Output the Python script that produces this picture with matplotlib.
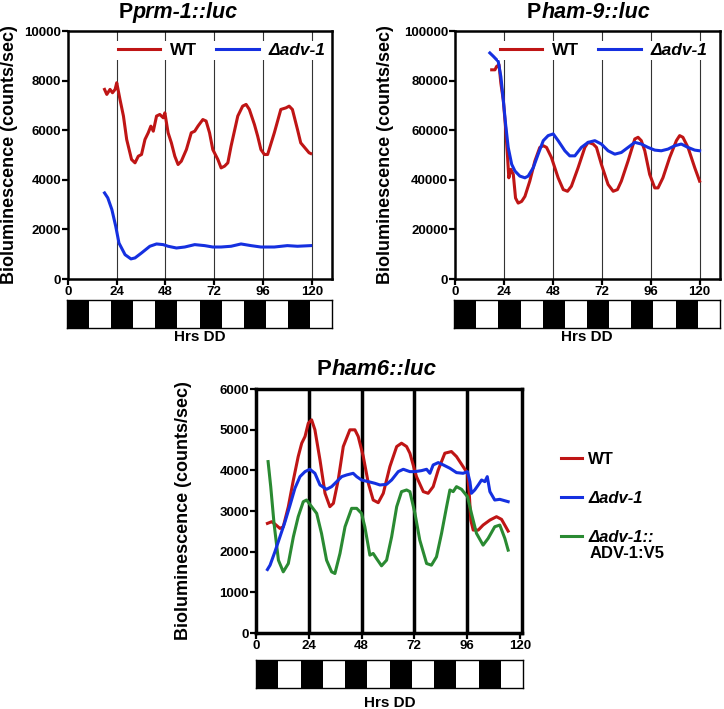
import matplotlib
matplotlib.use("Agg")
import matplotlib.pyplot as plt

plt.rcParams['font.family'] = ['Liberation Sans', 'DejaVu Sans']
plt.rcParams['font.weight'] = 'bold'
plt.rcParams['axes.labelweight'] = 'bold'

RED = '#BF1515'
BLUE = '#1530E0'
GREEN = '#2A8A32'

# ---- Pprm-1::luc ----
prm_wt_t = [18, 19.1, 20.7, 21.9, 23.2, 24, 25.6, 27.3, 28.9, 31.3, 33, 34.6, 36.2, 37.9, 39.5,
            40.8, 42, 43.6, 45.2, 46.9, 47.7, 49.3, 50.9, 52.6, 54.2, 55.8, 58.3, 60.7, 62.4,
            64, 66.4, 68, 69.7, 71.3, 73.8, 75.4, 77.1, 78.7, 80.3, 83.6, 86, 87.7, 89.3, 91.8,
            93.4, 95, 96.7, 98.3, 101.6, 104.8, 107.3, 108.9, 110.5, 113, 114.6, 118.7, 119.5]
prm_wt_v = [7645, 7443, 7645, 7510, 7645, 7914, 7240, 6570, 5625, 4818, 4684, 4950, 5020, 5625, 5895,
            6164, 5960, 6570, 6635, 6500, 6700, 5895, 5490, 4950, 4616, 4750, 5220, 5895, 5960,
            6165, 6430, 6370, 5895, 5220, 4818, 4480, 4550, 4684, 5357, 6570, 6970, 7040, 6837, 6230,
            5760, 5220, 5020, 5020, 5895, 6837, 6900, 6970, 6837, 6030, 5490, 5090, 5060]
prm_ko_t = [18, 19.6, 21.6, 23.5, 25.1, 28.1, 31, 33, 36.2, 40.3, 43.6, 46.9, 49.3, 53.4, 57.5,
            62.4, 67.3, 71.3, 75.4, 80.3, 85.2, 90.1, 95, 101.6, 108, 113, 119.5]
prm_ko_v = [3470, 3270, 2800, 2126, 1450, 980, 810, 850, 1050, 1320, 1413, 1386, 1320, 1250, 1290,
            1386, 1346, 1290, 1290, 1320, 1413, 1346, 1290, 1290, 1346, 1320, 1346]

# ---- Pham-9::luc ----
h9_wt_t = [18, 19.6, 20.4, 21.6, 22.5, 23.7, 24.8, 25.8, 26.4, 27.4, 28.6, 29.7, 31, 32.7, 34.3,
           36.7, 39.2, 41.6, 43.3, 44.9, 47.3, 50.6, 53.1, 55.2, 57.1, 60.4, 63.7, 65.3, 67.8,
           69.4, 71.8, 75.1, 77.6, 79.7, 81.6, 84.9, 88.2, 89.8, 91.4, 93.1, 95.5, 98, 99.6,
           102, 105.3, 108.6, 110.2, 111.8, 114.3, 117.6, 120]
h9_wt_v = [84350, 84350, 85700, 86400, 78900, 72100, 61200, 49000, 40800, 44200, 42200, 32650, 30600,
           31300, 33300, 39500, 47600, 53060, 53740, 53060, 49000, 40800, 36050, 35370, 37400, 44900,
           53060, 55100, 54400, 53060, 46260, 38100, 35370, 36050, 39460, 47600, 56460, 57140, 55780,
           51700, 42180, 36730, 36730, 40800, 48980, 55780, 57820, 57140, 53060, 44900, 39460]
h9_ko_t = [17.1, 18.8, 20.4, 21.2, 22.5, 23.7, 24.8, 26.1, 27.8, 29.4, 31.8, 34.3, 35.9, 38.4, 40.8,
           43.3, 45.7, 48.2, 50.6, 53.9, 56.3, 58.8, 62, 65.3, 68.6, 71.8, 75.1, 78.4, 81.6, 84.9,
           88.2, 91.4, 94.7, 98, 101.2, 104.5, 107.8, 111, 114.3, 117.6, 120]
h9_ko_v = [91150, 89800, 88430, 87760, 81600, 72100, 62600, 53060, 46260, 43540, 41500, 40800, 41500,
           44900, 50340, 55780, 57820, 58500, 55780, 51700, 49660, 49660, 53060, 55100, 55780, 54420,
           51700, 50340, 51020, 53060, 55100, 54420, 53060, 51970, 51700, 52380, 53740, 54420, 53060,
           51970, 51700]

# ---- Pham6::luc ----
h6_wt_t = [5.2, 7.1, 8.6, 10.9, 12.4, 14.7, 17, 19.2, 20.8, 22.3, 23.8, 25.3, 26.8, 29.1, 31.4,
           33.6, 35.2, 37.4, 39.7, 42.7, 45, 46.5, 48.8, 51.1, 53.3, 55.6, 57.9, 60.9, 64, 66.2,
           68.5, 70, 73, 76.1, 78.3, 80.6, 82.9, 85.9, 88.9, 91.2, 94.2, 96.2, 97, 97.7, 98.8,
           101.1, 103.3, 106.4, 109.4, 111.7, 114.7]
h6_wt_v = [2695, 2736, 2679, 2572, 2613, 3106, 3763, 4339, 4667, 4832, 5160, 5242, 4996, 4257, 3435,
           3106, 3188, 3763, 4585, 4996, 4996, 4832, 4339, 3681, 3270, 3204, 3435, 4092, 4585, 4667,
           4585, 4421, 3845, 3476, 3435, 3599, 4010, 4421, 4462, 4339, 4092, 3928, 3435, 2777, 2531,
           2531, 2654, 2777, 2860, 2794, 2506]
h6_ko_t = [5.2, 6.4, 8.6, 10.9, 13.2, 15.5, 17.7, 20, 22.3, 24.5, 26.8, 29.1, 32.1, 34.4, 36.7, 39,
           41.2, 44.2, 45.8, 48, 51.1, 54.1, 56.4, 59.4, 61.7, 64.7, 67, 70, 72.3, 75.3, 77.6, 79.1,
           80.6, 82.9, 85.2, 88.2, 91.2, 94.2, 96.2, 97.3, 98, 99.5, 101.1, 102.6, 104.1, 105.2,
           106.4, 108.6, 110.9, 114.7]
h6_ko_v = [1561, 1668, 1997, 2366, 2736, 3147, 3558, 3845, 3968, 4026, 3927, 3640, 3533, 3599, 3722,
           3845, 3886, 3927, 3845, 3763, 3722, 3681, 3640, 3656, 3763, 3968, 4026, 3968, 3968, 3993,
           4026, 3927, 4133, 4190, 4133, 4051, 3944, 3927, 3968, 3722, 3435, 3517, 3640, 3763, 3722,
           3845, 3476, 3270, 3287, 3229]
h6_res_t = [5.5, 6.7, 8.2, 10.2, 12.4, 14.7, 17, 19.2, 21.5, 23, 25.3, 27.6, 29.8, 32.1, 34.4, 35.9,
            38.2, 40.5, 43.5, 45.8, 48, 49.5, 51.8, 53.3, 54.8, 57.1, 59.4, 61.7, 64, 66.2, 68.5, 70,
            72.3, 74.5, 77.6, 79.8, 82.1, 84.4, 86.7, 88.2, 89.7, 91.2, 93.5, 96.2, 98, 100.3, 103.3,
            105.6, 108.6, 110.9, 113.2, 114.7]
h6_res_v = [4215, 3599, 2695, 1791, 1504, 1709, 2366, 2860, 3229, 3270, 3106, 2942, 2449, 1791, 1504,
            1463, 1956, 2613, 3065, 3065, 2942, 2613, 1914, 1956, 1832, 1652, 1791, 2366, 3106, 3476,
            3517, 3476, 2942, 2285, 1709, 1668, 1873, 2449, 3106, 3517, 3476, 3599, 3533, 3352, 2942,
            2449, 2161, 2326, 2613, 2654, 2326, 2038]

hour_ticks = [0, 24, 48, 72, 96, 120]
day_lines = [24, 48, 72, 96, 120]
ld_cycle = [1, 0, 1, 0, 1, 0, 1, 0, 1, 0, 1, 0]   # 1 = dark, 0 = light

W, H = 724, 709
fig = plt.figure(figsize=(W / 100, H / 100), dpi=100)


def frac(x0, y0, x1, y1):
    return [x0 / W, 1 - y1 / H, (x1 - x0) / W, (y1 - y0) / H]


def style_axes(ax, yticks, ylim, xlim, spine_w):
    ax.set_xlim(*xlim)
    ax.set_ylim(*ylim)
    ax.set_yticks(yticks)
    ax.set_xticks(hour_ticks)
    for s in ax.spines.values():
        s.set_linewidth(spine_w)
    ax.tick_params(direction='out', length=4, width=1.6, labelsize=9.5, pad=1)
    for lab in ax.get_xticklabels() + ax.get_yticklabels():
        lab.set_fontweight('bold')
    ax.set_ylabel('Bioluminescence (counts/sec)', fontsize=13, fontweight='bold')


def add_title(ax, x, y, rest, size):
    t = ax.text(x, y, 'P', transform=ax.transAxes, fontsize=size, fontweight='bold',
                va='center', ha='left')
    ax.annotate(rest, xy=(1, 0), xycoords=t, va='bottom', ha='left', fontsize=size,
                fontweight='bold', style='italic')


def ld_bar(rect, label_y):
    lax = fig.add_axes(rect)
    colors = ['black' if d else 'white' for d in ld_cycle]
    lax.bar(range(len(ld_cycle)), [1] * len(ld_cycle), width=1, align='edge', color=colors)
    lax.set_xlim(0, len(ld_cycle))
    lax.set_ylim(0, 1)
    lax.set_xticks([])
    lax.set_yticks([])
    for s in lax.spines.values():
        s.set_linewidth(1)
    lax.text(0.5, label_y, 'Hrs DD', transform=lax.transAxes, ha='center', va='center',
             fontsize=11, fontweight='bold')


def top_legend(ax, x0):
    leg = ax.legend(ncol=2, loc='upper left', bbox_to_anchor=(x0, 0.96), borderaxespad=0,
                    borderpad=0.1, frameon=True, facecolor='white', edgecolor='none',
                    framealpha=1, fancybox=False, handlelength=2.45, handletextpad=0.55,
                    columnspacing=1.1, prop={'size': 12.5, 'weight': 'bold'})
    leg.get_texts()[1].set_style('italic')
    leg.set_zorder(5)


# top-left panel
ax1 = fig.add_axes(frac(68, 31, 332, 279))
for x in day_lines:
    ax1.axvline(x, color='0.2', lw=0.8, zorder=1)
ax1.plot(prm_wt_t, prm_wt_v, color=RED, lw=2.2, label='WT', zorder=3)
ax1.plot(prm_ko_t, prm_ko_v, color=BLUE, lw=2.2, label='Δadv-1', zorder=3)
style_axes(ax1, range(0, 10001, 2000), (0, 10000), (0, 130), 1.8)
ax1.yaxis.set_label_coords(-0.19, 0.5)
top_legend(ax1, 0.182)
add_title(ax1, 0.19, 1.075, 'prm-1::luc', 15.5)
ld_bar(frac(67, 300, 332, 328), -0.32)

# top-right panel
ax2 = fig.add_axes(frac(455, 31, 720, 279))
for x in day_lines:
    ax2.axvline(x, color='0.2', lw=0.8, zorder=1)
ax2.plot(h9_wt_t, h9_wt_v, color=RED, lw=2.2, label='WT', zorder=3)
ax2.plot(h9_ko_t, h9_ko_v, color=BLUE, lw=2.2, label='Δadv-1', zorder=3)
style_axes(ax2, range(0, 100001, 20000), (0, 100000), (0, 130), 1.8)
ax2.yaxis.set_label_coords(-0.23, 0.5)
top_legend(ax2, 0.162)
add_title(ax2, 0.272, 1.075, 'ham-9::luc', 15.5)
ld_bar(frac(454, 300, 720, 328), -0.32)

# bottom panel
ax3 = fig.add_axes(frac(256, 389, 522, 633))
for x in day_lines[:-1]:
    ax3.axvline(x, color='black', lw=2.5, zorder=1)
l1, = ax3.plot(h6_wt_t, h6_wt_v, color=RED, lw=2.2, zorder=3)
l2, = ax3.plot(h6_ko_t, h6_ko_v, color=BLUE, lw=2.2, zorder=4)
l3, = ax3.plot(h6_res_t, h6_res_v, color=GREEN, lw=2.2, zorder=3)
style_axes(ax3, range(0, 6001, 1000), (0, 6000), (0, 121), 2.5)
ax3.yaxis.set_label_coords(-0.24, 0.5)
add_title(ax3, 0.229, 1.078, 'ham6::luc', 16)
ld_bar(frac(256, 660, 523, 688), -0.54)

leg3 = fig.legend([l1, l2, l3], ['WT', 'Δadv-1', 'Δadv-1::'], loc='upper left',
                  bbox_to_anchor=(554 / W, 1 - 445 / H), borderaxespad=0, frameon=False,
                  handlelength=1.3, handletextpad=0.35, labelspacing=1.45,
                  prop={'size': 12, 'weight': 'bold'})
leg3.get_texts()[1].set_style('italic')
leg3.get_texts()[2].set_style('italic')
fig.canvas.draw()
ax3.annotate('ADV-1:V5', xy=(0, 0), xycoords=leg3.get_texts()[2], xytext=(1, -1),
             textcoords='offset points', va='top', ha='left', fontsize=12, fontweight='bold',
             annotation_clip=False)

fig.savefig('out.png', dpi=100)
